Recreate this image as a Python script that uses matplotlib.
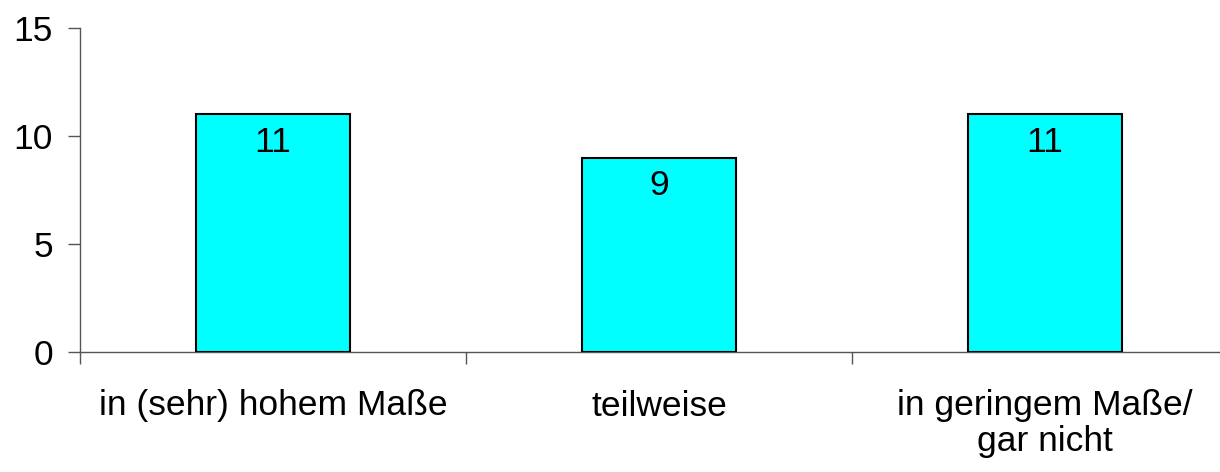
import matplotlib
matplotlib.use("Agg")
import matplotlib.pyplot as plt

categories = ["in (sehr) hohem Maße", "teilweise", "in geringem Maße/\ngar nicht"]
values = [11, 9, 11]
yticks = [0, 5, 10, 15]

plt.rcParams["font.family"] = ["Liberation Sans", "DejaVu Sans"]

fig = plt.figure(figsize=(12.2, 4.72), dpi=100)
ax = fig.add_axes([80 / 1220, 1 - 352 / 472, 3 * 386 / 1220, 324 / 472])

x = range(len(categories))
bars = ax.bar(x, values, width=0.4, color="#00FFFF", edgecolor="black", linewidth=1.5, zorder=3)

# value labels inside top of bars
for b, v in zip(bars, values):
    ax.annotate(str(v), (b.get_x() + b.get_width() / 2, v), xytext=(0, -8),
                textcoords="offset points", ha="center", va="top", fontsize=25.5)

ax.set_xlim(-0.5, 2.5)
ax.set_ylim(0, 15)
ax.set_yticks(yticks)
ax.tick_params(axis="y", labelsize=25.5, length=8.6, width=1, color="#555555", pad=11)

# category labels centered, separator ticks between
ax.set_xticks([-0.5, 0.5, 1.5, 2.5])
ax.set_xticklabels([])
ax.set_xticks(list(x), minor=True)
ax.set_xticklabels(categories, minor=True, fontsize=25.5, linespacing=1.1)
ax.tick_params(axis="x", which="major", length=8.6, width=1, color="#555555", direction="out")
ax.tick_params(axis="x", which="minor", length=0, pad=27)

for s in ["top", "right"]:
    ax.spines[s].set_visible(False)
for s in ["left", "bottom"]:
    ax.spines[s].set_color("#555555")
    ax.spines[s].set_linewidth(1)

fig.savefig("out.png", dpi=100)
